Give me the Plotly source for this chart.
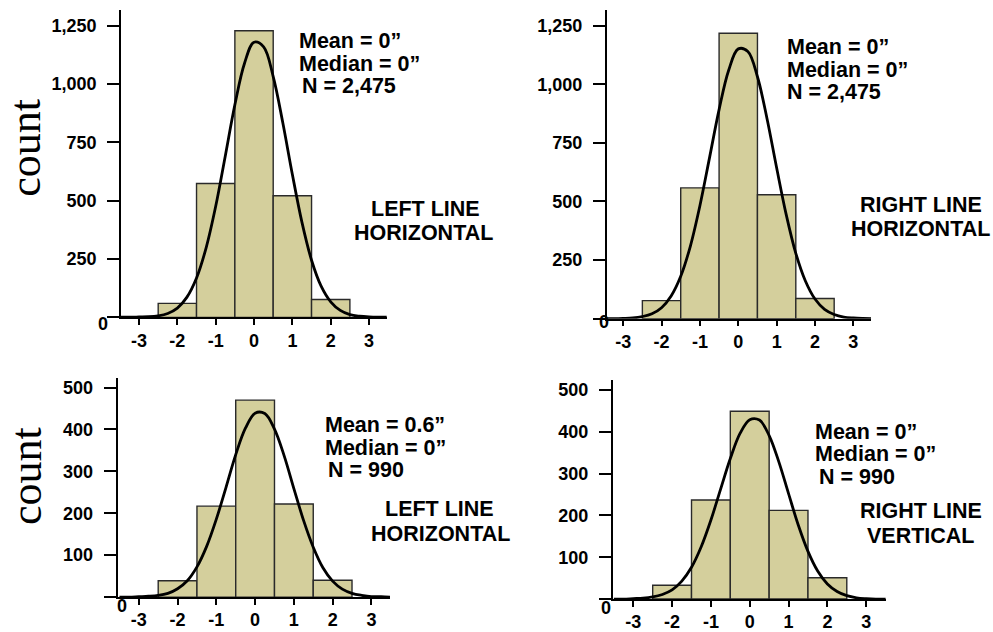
import plotly.graph_objects as go

W, H = 993, 632

# ---- data -------------------------------------------------------------
bin_centers = [-2, -1, 0, 1, 2]

counts_left_horiz_top = [60, 574, 1228, 521, 77]
counts_right_horiz_top = [77, 558, 1218, 529, 86]
counts_left_horiz_bottom = [39, 217, 470, 222, 40]
counts_right_vert_bottom = [33, 237, 449, 212, 51]

# fitted normal curve, sampled every 0.25
curve_x = [-3.5, -3.25, -3.0, -2.75, -2.5, -2.25, -2.0, -1.75, -1.5, -1.25,
           -1.0, -0.75, -0.5, -0.25, 0.0, 0.25, 0.5, 0.75, 1.0, 1.25,
           1.5, 1.75, 2.0, 2.25, 2.5, 2.75, 3.0, 3.25, 3.5]
curve_left_horiz_top = [1, 1, 2, 3, 7, 17, 40, 87, 169, 298,
                        476, 692, 911, 1088, 1179, 1159, 1032, 834, 612, 407,
                        245, 134, 67, 30, 12, 5, 2, 1, 1]
curve_right_horiz_top = [0, 0, 1, 3, 9, 21, 47, 97, 181, 309,
                         482, 686, 892, 1060, 1151, 1140, 1032, 853, 644, 444,
                         279, 161, 84, 40, 18, 7, 3, 1, 0]
curve_left_horiz_bottom = [0, 0, 1, 2, 4, 9, 20, 39, 72, 121,
                           186, 262, 340, 403, 439, 438, 401, 337, 259, 183,
                           119, 70, 38, 19, 9, 4, 1, 1, 0]
curve_right_vert_bottom = [0, 0, 1, 2, 5, 11, 22, 43, 76, 125,
                           189, 263, 336, 396, 429, 428, 391, 328, 252, 177,
                           114, 67, 36, 18, 8, 3, 1, 0, 0]

x_tick_vals = [-3, -2, -1, 0, 1, 2, 3]
x_tick_text = ["-3", "-2", "-1", "0", "1", "2", "3"]
y_tick_vals_top = [0, 250, 500, 750, 1000, 1250]
y_tick_text_top = ["", "250", "500", "750", "1,000", "1,250"]
y_tick_vals_bottom = [0, 100, 200, 300, 400, 500]
y_tick_text_bottom = ["", "100", "200", "300", "400", "500"]

stats_left_horiz_top = ["Mean = 0\u201d", "Median = 0\u201d", "N = 2,475"]
stats_right_horiz_top = ["Mean = 0\u201d", "Median = 0\u201d", "N = 2,475"]
stats_left_horiz_bottom = ["Mean = 0.6\u201d", "Median = 0\u201d", "N = 990"]
stats_right_vert_bottom = ["Mean = 0\u201d", "Median = 0\u201d", "N = 990"]

titles = [["LEFT LINE", "HORIZONTAL"], ["RIGHT LINE", "HORIZONTAL"],
          ["LEFT LINE", "HORIZONTAL"], ["RIGHT LINE", "VERTICAL"]]

# ---- styling ----------------------------------------------------------
SANS = "Liberation Sans, Arial, Helvetica, sans-serif"
SERIF = "Liberation Serif, Times New Roman, serif"
BAR_FILL = "#D4CF9C"
BAR_EDGE = "#2a2a2a"
STAT_LINE_GAP = 22.8  # vertical distance between stat lines, px


def px_x(p):
    return p / W


def px_y(p):
    return 1 - p / H


# axis geometry per panel, in page pixels
panels = [
    dict(counts=counts_left_horiz_top, curve=curve_left_horiz_top,
         stats=stats_left_horiz_top, title=titles[0],
         xpx=(121, 386.7), xr=(-3.47, 3.46), ypx=(322, 10), yr=(0, 1317.6),
         yt=(y_tick_vals_top, y_tick_text_top),
         stat_x=(297, 297, 300), stat_y0=41.7,
         title_pos=[(425, 211.7), (423.5, 236.7)], zero_pos=(102.5, 329)),
    dict(counts=counts_right_horiz_top, curve=curve_right_horiz_top,
         stats=stats_right_horiz_top, title=titles[1],
         xpx=(606.7, 871), xr=(-3.43, 3.46), ypx=(323.3, 10), yr=(0, 1317.5),
         yt=(y_tick_vals_top, y_tick_text_top),
         stat_x=(785, 785, 785), stat_y0=47.8,
         title_pos=[(920.5, 207.5), (920, 232.5)], zero_pos=(604, 327)),
    dict(counts=counts_left_horiz_bottom, curve=curve_left_horiz_bottom,
         stats=stats_left_horiz_bottom, title=titles[2],
         xpx=(117.5, 390), xr=(-3.55, 3.48), ypx=(605.7, 383), yr=(0, 524),
         yt=(y_tick_vals_bottom, y_tick_text_bottom),
         stat_x=(323, 323, 326), stat_y0=431.2,
         title_pos=[(439, 516), (440, 541.7)], zero_pos=(122, 615)),
    dict(counts=counts_right_vert_bottom, curve=curve_right_vert_bottom,
         stats=stats_right_vert_bottom, title=titles[3],
         xpx=(612.7, 886), xr=(-3.53, 3.51), ypx=(607.7, 385), yr=(0, 525),
         yt=(y_tick_vals_bottom, y_tick_text_bottom),
         stat_x=(813.3, 813.3, 816.7), stat_y0=437.8,
         title_pos=[(920.8, 518.7), (921, 543.3)], zero_pos=(605.5, 617)),
]

fig = go.Figure()
layout = dict(
    width=W, height=H, margin=dict(l=0, r=0, t=0, b=0),
    paper_bgcolor="white", plot_bgcolor="white", showlegend=False,
    annotations=[],
)

tickfont = dict(family=SANS, size=18, color="black", weight="bold")
labelfont = dict(family=SANS, size=21.5, color="black", weight="bold")

for i, p in enumerate(panels, start=1):
    xa = "x" if i == 1 else f"x{i}"
    ya = "y" if i == 1 else f"y{i}"
    fig.add_trace(go.Bar(
        x=bin_centers, y=p["counts"], width=1, xaxis=xa, yaxis=ya,
        marker=dict(color=BAR_FILL, line=dict(color=BAR_EDGE, width=1.4)),
        hoverinfo="x+y",
    ))
    fig.add_trace(go.Scatter(
        x=curve_x, y=p["curve"], mode="lines", xaxis=xa, yaxis=ya,
        line=dict(color="black", width=2.8, shape="spline", smoothing=1.0),
        hoverinfo="skip",
    ))
    xkey = "xaxis" if i == 1 else f"xaxis{i}"
    ykey = "yaxis" if i == 1 else f"yaxis{i}"
    layout[xkey] = dict(
        domain=[px_x(p["xpx"][0]), px_x(p["xpx"][1])], range=list(p["xr"]),
        anchor=ya, showgrid=False, zeroline=False,
        showline=True, linecolor="black", linewidth=1.6,
        ticks="outside", ticklen=6, tickwidth=1.5, tickcolor="black",
        tickvals=x_tick_vals, ticktext=x_tick_text, tickfont=tickfont,
        fixedrange=True,
    )
    layout[ykey] = dict(
        domain=[px_y(p["ypx"][0]), px_y(p["ypx"][1])], range=list(p["yr"]),
        anchor=xa, showgrid=False, zeroline=False,
        showline=True, linecolor="black", linewidth=1.6,
        ticks="outside", ticklen=12, tickwidth=1.5, tickcolor="black",
        tickvals=p["yt"][0], ticktext=p["yt"][1], tickfont=tickfont,
        ticklabelstandoff=7, fixedrange=True,
    )
    # the zero count label sits just below the corner of the axes
    layout["annotations"].append(dict(
        text="0", xref="paper", yref="paper", showarrow=False,
        x=px_x(p["zero_pos"][0]), y=px_y(p["zero_pos"][1]),
        xanchor="center", yanchor="middle", font=tickfont,
    ))
    for k, (txt, sx) in enumerate(zip(p["stats"], p["stat_x"])):
        sy = p["stat_y0"] + k * STAT_LINE_GAP
        layout["annotations"].append(dict(
            text=txt, xref="paper", yref="paper", showarrow=False,
            x=px_x(sx), y=px_y(sy), xanchor="left", yanchor="middle",
            font=labelfont,
        ))
    for txt, (tx, ty) in zip(p["title"], p["title_pos"]):
        layout["annotations"].append(dict(
            text=txt, xref="paper", yref="paper", showarrow=False,
            x=px_x(tx), y=px_y(ty), xanchor="center", yanchor="middle",
            font=labelfont,
        ))

# vertical "count" axis captions
for cy in (150, 483):
    layout["annotations"].append(dict(
        text="count", xref="paper", yref="paper", showarrow=False,
        x=px_x(26), y=px_y(cy), xanchor="center", yanchor="middle",
        textangle=-90,
        font=dict(family=SERIF, size=44, color="black"),
    ))

fig.update_layout(**layout)
fig.write_html("out.html")
